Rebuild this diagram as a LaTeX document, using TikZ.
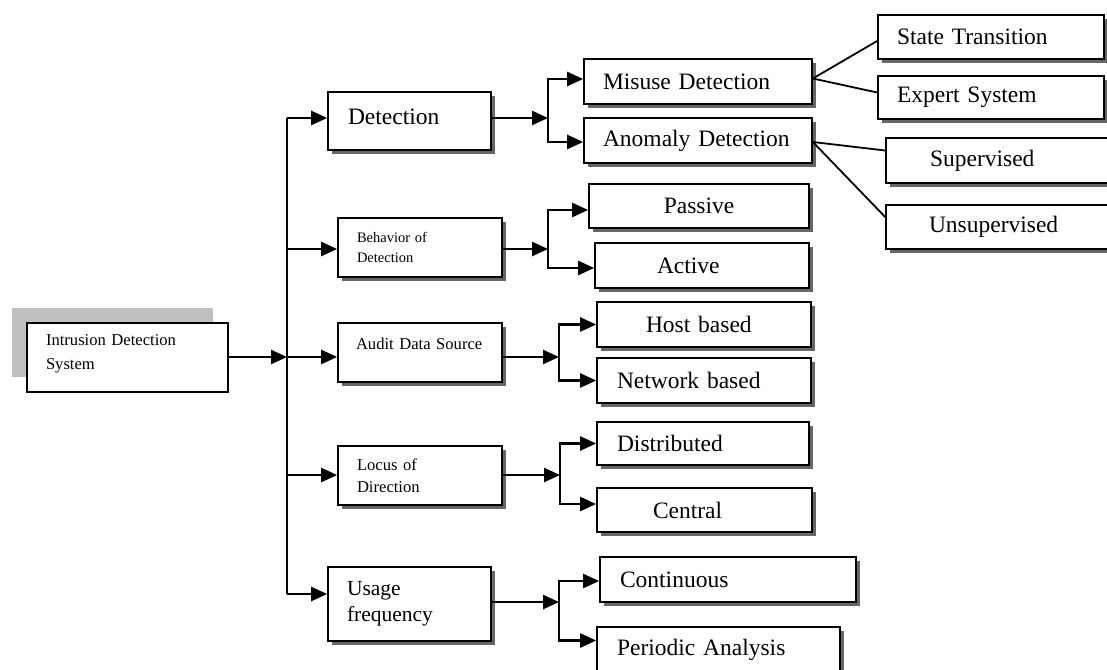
\documentclass[tikz,border=0pt]{standalone}
\usepackage{fontspec}
\setmainfont{Liberation Serif}
\usetikzlibrary{shadows,arrows.meta}

% text sizes used in the boxes
\newcommand\bigtxt{\fontsize{23.5}{28}\selectfont}
\newcommand\midtxt{\fontsize{21.5}{26}\selectfont}
\newcommand\smalltxt{\fontsize{16.6}{21}\selectfont}
\newcommand\tinytxt{\fontsize{14.5}{19.5}\selectfont}
\newcommand\lift[2]{\raisebox{#1}[\height][\depth]{#2}}

\begin{document}
\begin{tikzpicture}[x=1pt,y=-1pt,
  frame/.style={draw, line width=1.7pt, fill=white, rectangle, inner ysep=0pt, align=left},
  box/.style={frame, drop shadow={shadow xshift=4pt, shadow yshift=-4pt, fill=black!60, opacity=1}},
  rootbox/.style={frame, general shadow={shadow xshift=-15pt, shadow yshift=15pt, fill=black!25}},
  arr/.style={line width=2.5pt, -{Triangle[length=16pt,width=14pt]}},
  link/.style={line width=2.5pt},
  thin link/.style={line width=1.8pt}
]
\useasboundingbox (0,0) rectangle (1107,669);

% root
\node[rootbox, minimum height=69pt, inner xsep=19pt, text width=163pt, font=\fontsize{16.6}{24}\selectfont]
  (ids) at (127.5,357.5) {\lift{4pt}{Intrusion Detection}\\\lift{4pt}{System}};

% first level
\node[box, minimum height=58pt, inner xsep=20pt, text width=123pt, font=\bigtxt]
  (det) at (409.5,121) {\lift{4pt}{Detection}};
\node[box, minimum height=59pt, inner xsep=19pt, text width=126pt, font=\tinytxt]
  (beh) at (420,247.5) {Behavior of\\Detection};
\node[box, minimum height=59pt, inner xsep=18pt, text width=128pt, font=\smalltxt]
  (aud) at (420,352.5) {\lift{9pt}{Audit Data Source}};
\node[box, minimum height=59pt, inner xsep=19pt, text width=126pt, font=\fontsize{16.6}{22}\selectfont]
  (loc) at (420,475.5) {Locus of\\Direction};
\node[box, minimum height=74pt, inner xsep=19pt, text width=125pt, font=\midtxt]
  (usg) at (409.5,604) {Usage\\frequency};

% second level
\node[box, minimum height=45pt, inner xsep=19pt, text width=190pt, font=\bigtxt]
  (mis) at (698,81.5) {Misuse Detection};
\node[box, minimum height=45pt, inner xsep=19pt, text width=190pt, font=\bigtxt]
  (ano) at (698,140.5) {Anomaly Detection};
\node[box, minimum height=44pt, inner xsep=10pt, text width=200pt, align=center, font=\bigtxt]
  (pas) at (699,206) {Passive};
\node[box, minimum height=45pt, inner xsep=62pt, text width=90pt, font=\bigtxt]
  (act) at (702,265.5) {Active};
\node[box, minimum height=45pt, inner xsep=49pt, text width=116pt, font=\bigtxt]
  (hst) at (704,324.5) {Host based};
\node[box, minimum height=45pt, inner xsep=20pt, text width=174pt, font=\bigtxt]
  (net) at (704,380.5) {Network based};
\node[box, minimum height=43pt, inner xsep=20pt, text width=172pt, font=\bigtxt]
  (dis) at (703,443.5) {Distributed};
\node[box, minimum height=44pt, inner xsep=56pt, text width=103pt, font=\bigtxt]
  (cen) at (704.5,510) {Central};
\node[box, minimum height=45pt, inner xsep=20pt, text width=216pt, font=\bigtxt]
  (con) at (728,579.5) {Continuous};
\node[box, minimum height=45pt, inner xsep=20pt, text width=203pt, font=\bigtxt]
  (per) at (718.5,649.5) {Periodic Analysis};

% third level
\node[box, minimum height=44pt, inner xsep=19pt, text width=188pt, font=\bigtxt]
  (st) at (991,37) {State Transition};
\node[box, minimum height=43pt, inner xsep=19pt, text width=188pt, font=\bigtxt]
  (es) at (991,97.5) {Expert System};
\node[box, minimum height=45pt, inner xsep=44pt, text width=136pt, font=\bigtxt]
  (sup) at (998,160.5) {Supervised};
\node[box, minimum height=44pt, inner xsep=43pt, text width=138pt, font=\bigtxt]
  (uns) at (998,227) {Unsupervised};

% trunk
\coordinate (t-det) at (287,118);
\coordinate (t-beh) at (287,249);
\coordinate (t-aud) at (287,357);
\coordinate (t-loc) at (287,475);
\coordinate (t-usg) at (287,594);
\draw[arr] (ids.east |- t-aud) -- (t-aud);
\draw[link] (t-det) -- (t-usg);
\foreach \n in {det,beh,aud,loc,usg}
  \draw[arr] (t-\n) -- (t-\n -| \n.west);

% splits
\coordinate (s-det) at (548,118);
\coordinate (s-beh) at (548,249);
\coordinate (s-aud) at (559,357);
\coordinate (s-loc) at (560,475);
\coordinate (s-usg) at (559,602);
\foreach \n in {det,beh,aud,loc,usg}
  \draw[arr] (\n.east |- s-\n) -- (s-\n);

\draw[arr] (s-det) |- ([yshift=2.5pt]mis.west);
\draw[arr] (s-det) |- ([yshift=-1.5pt]ano.west);
\draw[arr] (s-beh) |- ([yshift=-4pt]pas.west);
\draw[arr] (s-beh) |- ([yshift=-2.5pt]act.west);
\draw[arr] (s-aud) |- (hst.west);
\draw[arr] (s-aud) |- (net.west);
\draw[arr] (s-loc) |- (dis.west);
\draw[arr] (s-loc) |- ([yshift=6pt]cen.west);
\draw[arr] (s-usg) |- ([yshift=-1.5pt]con.west);
\draw[arr] (s-usg) |- ([yshift=9pt]per.west);

% plain fan-out lines
\draw[thin link] ([yshift=3pt]mis.east) -- ([yshift=-4pt]st.west);
\draw[thin link] ([yshift=3pt]mis.east) -- ([yshift=5pt]es.west);
\draw[thin link] ([yshift=-1.5pt]ano.east) -- ([yshift=10pt]sup.west);
\draw[thin link] ([yshift=-1.5pt]ano.east) -- ([yshift=10pt]uns.west);
\end{tikzpicture}
\end{document}
